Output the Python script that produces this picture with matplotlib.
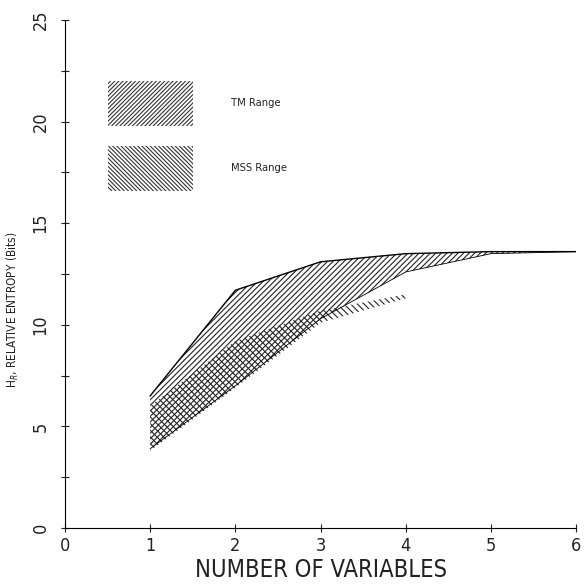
import numpy as np
import matplotlib
matplotlib.use("Agg")
import matplotlib.pyplot as plt
from matplotlib.ticker import MultipleLocator

plt.rcParams['hatch.linewidth'] = 0.8
plt.rcParams['font.stretch'] = 'condensed'

# TM range (upper and lower bound) vs number of variables
tm_x = [1, 2, 3, 4, 5, 6]
tm_upper = [6.5, 11.7, 13.1, 13.5, 13.6, 13.6]
tm_lower = [3.9, 7.0, 10.3, 12.6, 13.5, 13.6]

# MSS range
mss_x = [1, 2, 3, 4]
mss_upper = [6.0, 9.2, 10.7, 11.5]
mss_lower = [3.8, 6.9, 10.1, 11.3]

fig = plt.figure(figsize=(5.85, 5.87), dpi=100)
ax = fig.add_axes([0.111, 0.1005, 0.874, 0.8655])

# regions
ax.fill_between(mss_x, mss_lower, mss_upper, facecolor='none', edgecolor='#222222',
                hatch='\\' * 5, linewidth=0)
ax.fill_between(tm_x, tm_lower, tm_upper, facecolor='none', edgecolor='#222222',
                hatch='/' * 6, linewidth=0)
ax.plot(tm_x, tm_upper, color='black', linewidth=1.0)
ax.plot(tm_x, tm_lower, color='black', linewidth=0.6)

# legend boxes drawn as in the original figure
ax.fill_between([0.5, 1.5], [19.8, 19.8], [22.0, 22.0], facecolor='none',
                edgecolor='#333333', hatch='/' * 8, linewidth=0)
ax.fill_between([0.5, 1.5], [16.6, 16.6], [18.8, 18.8], facecolor='none',
                edgecolor='#333333', hatch='\\' * 8, linewidth=0)
ax.text(1.95, 20.9, 'TM Range', fontsize=8, va='center', color='#222222')
ax.text(1.95, 17.7, 'MSS Range', fontsize=8, va='center', color='#222222')

ax.set_xlim(0, 6)
ax.set_ylim(0, 25)
ax.spines['top'].set_visible(False)
ax.spines['right'].set_visible(False)
ax.xaxis.set_major_locator(MultipleLocator(1))
ax.yaxis.set_major_locator(MultipleLocator(5))
ax.yaxis.set_minor_locator(MultipleLocator(2.5))
ax.tick_params(axis='both', which='both', direction='inout', length=6, width=0.8,
               labelsize=13, colors='#222222')
ax.tick_params(axis='y', which='major', pad=8)
for lab in ax.get_yticklabels():
    lab.set_rotation(90)
    lab.set_va('center')

ax.set_xlabel('NUMBER OF VARIABLES', fontsize=17, color='#222222', labelpad=2)
ax.set_ylabel(r'H$_R$, RELATIVE ENTROPY (Bits)', fontsize=8.5, color='#222222')
ax.yaxis.set_label_coords(-0.085, 0.43)

fig.savefig('out.png', dpi=100)
